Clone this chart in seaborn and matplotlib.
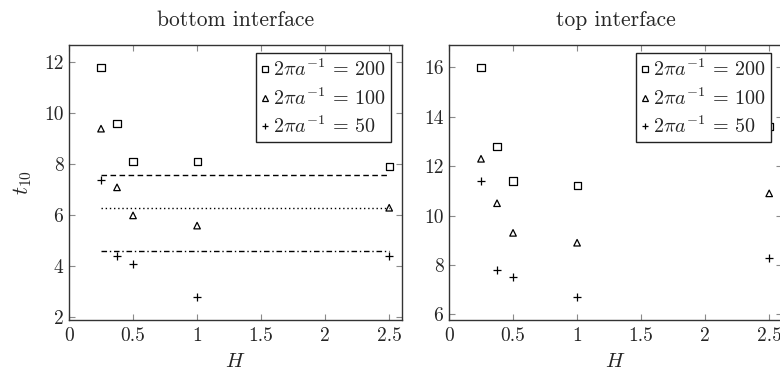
import matplotlib
matplotlib.use("Agg")
import matplotlib.pyplot as plt
from matplotlib.lines import Line2D
import seaborn as sns
import pandas as pd

# Layer thickness values
H = [0.25, 0.375, 0.5, 1.0, 2.5]

# Bottom interface: t_10 for each wavelength
bottom_200 = [11.8, 9.6, 8.1, 8.1, 7.9]
bottom_100 = [9.4, 7.1, 6.0, 5.6, 6.3]
bottom_50 = [7.4, 4.4, 4.1, 2.8, 4.4]

# Reference levels drawn across the bottom-interface panel
ref_x = [0.25, 2.5]
ref_200 = 7.6
ref_100 = 6.3
ref_50 = 4.6

# Top interface: t_10 for each wavelength
top_200 = [16.0, 12.8, 11.4, 11.2, 13.6]
top_100 = [12.3, 10.5, 9.3, 8.9, 10.9]
top_50 = [11.4, 7.8, 7.5, 6.7, 8.3]

labels = [r"$2\pi a^{-1}\,=\,200$", r"$2\pi a^{-1}\,=\,100$", r"$2\pi a^{-1}\,=\,50$"]
titles = ["bottom interface", "top interface"]
xticks = [0, 0.5, 1, 1.5, 2, 2.5]
xtick_labels = ["0", "0.5", "1", "1.5", "2", "2.5"]
yticks_bottom = [2, 4, 6, 8, 10, 12]
yticks_top = [6, 8, 10, 12, 14, 16]

sns.set_theme(style="white")
plt.rcParams["font.family"] = ["cmr10", "DejaVu Serif"]
plt.rcParams["mathtext.fontset"] = "cm"
plt.rcParams["axes.unicode_minus"] = False
plt.rcParams["axes.formatter.use_mathtext"] = True

FS = 14
W, Hpx = 780, 372
fig = plt.figure(figsize=(W / 100, Hpx / 100), dpi=100)

def px_axes(x0, x1, y0, y1):
    return fig.add_axes([x0 / W, 1 - y1 / Hpx, (x1 - x0) / W, (y1 - y0) / Hpx])

ax1 = px_axes(69, 402, 44.5, 320)
ax2 = px_axes(449, 782, 44.5, 320)

# marker, scatter area (pt^2)
markers = [("s", 26), ("^", 22), ("+", 30)]

def draw_panel(ax, series, ylim, yticks, title):
    for (m, area), ys in zip(markers, series):
        df = pd.DataFrame({"H": H, "t": ys})
        if m == "+":
            sns.scatterplot(data=df, x="H", y="t", marker=m, s=area,
                            color="black", linewidth=0.9, ax=ax, legend=False)
        else:
            sns.scatterplot(data=df, x="H", y="t", marker=m, s=area,
                            facecolor="none", edgecolor="black", linewidth=0.9,
                            ax=ax, legend=False)
    ax.set_xlim(0, 2.6)
    ax.set_ylim(*ylim)
    ax.set_xticks(xticks)
    ax.set_xticklabels(xtick_labels)
    ax.set_yticks(yticks)
    ax.set_yticklabels([str(v) for v in yticks])
    ax.tick_params(axis="both", which="major", direction="in", length=4.5,
                   width=0.8, color="#8a8a8a", labelsize=FS,
                   top=True, right=True, bottom=True, left=True)
    ax.tick_params(axis="x", pad=5)
    ax.tick_params(axis="y", pad=4)
    for sp in ax.spines.values():
        sp.set_color("#333333")
        sp.set_linewidth(1.0)
    ax.set_xlabel(r"$H$", fontsize=15, labelpad=6)
    ax.set_ylabel("")
    ax.set_title(title, fontsize=15.5, pad=13)
    handles = [
        Line2D([], [], marker="s", ms=4.2, mfc="none", mec="black", mew=0.9, ls=""),
        Line2D([], [], marker="^", ms=4.0, mfc="none", mec="black", mew=0.9, ls=""),
        Line2D([], [], marker="+", ms=4.8, color="black", mew=0.9, ls=""),
    ]
    leg = ax.legend(handles, labels, loc="upper right",
                    bbox_to_anchor=(0.966, 0.968), fontsize=14.5,
                    frameon=True, fancybox=False, framealpha=1,
                    edgecolor="#222222", handlelength=0.45, handletextpad=0.15,
                    borderpad=0.25, labelspacing=0.36, borderaxespad=0.0)
    leg.get_frame().set_linewidth(1.0)

draw_panel(ax1, [bottom_200, bottom_100, bottom_50], (1.9, 12.7),
           yticks_bottom, titles[0])
draw_panel(ax2, [top_200, top_100, top_50], (5.77, 16.93),
           yticks_top, titles[1])

# Horizontal reference levels on the bottom-interface panel
for level, ls in [(ref_200, (0, (4, 2.5))), (ref_100, (0, (1, 2))),
                  (ref_50, (0, (4, 2, 1, 2)))]:
    sns.lineplot(x=ref_x, y=[level, level], ax=ax1, color="black",
                 linewidth=1.0, linestyle=ls)
ax1.set_xlabel(r"$H$", fontsize=15, labelpad=6)
ax1.set_ylabel(r"$t_{10}$", fontsize=16, labelpad=7)

fig.savefig("out.png", dpi=100)
